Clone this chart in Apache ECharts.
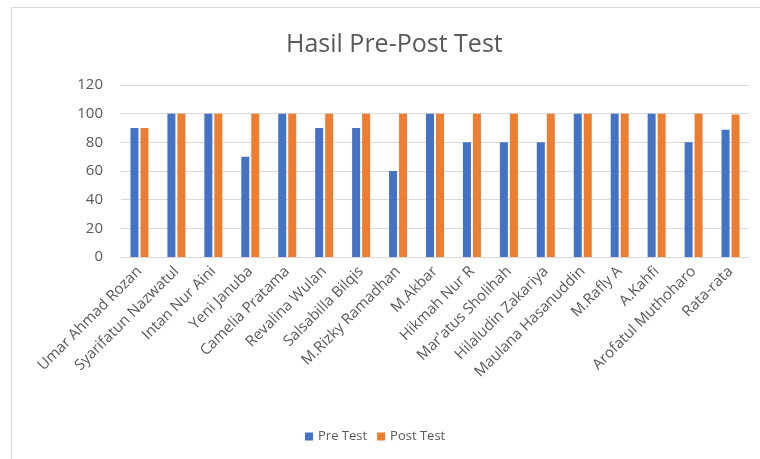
<!DOCTYPE html>
<html>
<head>
<meta charset="utf-8">
<script src="https://cdn.jsdelivr.net/npm/echarts@6/dist/echarts.min.js"></script>
<style>
  body { margin: 0; background: #fff; }
  #chart { width: 760px; height: 459px; }
</style>
</head>
<body>
<div id="chart"></div>
<script>
// nama siswa
const names = [
  'Umar Ahmad Rozan', 'Syarifatun Nazwatul', 'Intan Nur Aini', 'Yeni Januba',
  'Camelia Pratama', 'Revalina Wulan', 'Salsabilla Bilqis', 'M.Rizky Ramadhan',
  'M.Akbar', 'Hikmah Nur R', "Mar'atus Sholihah", 'Hilaludin Zakariya',
  'Maulana Hasanuddin', 'M.Rafly A', 'A.Kahfi', 'Arofatul Muthoharo', 'Rata-rata'
];
const preTest = [90, 100, 100, 70, 100, 90, 90, 60, 100, 80, 80, 80, 100, 100, 100, 80, 88.75];
const postTest = [90, 100, 100, 100, 100, 100, 100, 100, 100, 100, 100, 100, 100, 100, 100, 100, 99.375];
const yTicks = [0, 20, 40, 60, 80, 100, 120];

const fontFam = '"Open Sans", "Liberation Sans", sans-serif';
const chart = echarts.init(document.getElementById('chart'));
const option = {
  animation: false,
  graphic: [
    {
      type: 'rect',
      shape: { x: 11.5, y: 7.5, width: 800, height: 500 },
      style: { fill: 'none', stroke: '#d9d9d9', lineWidth: 1 },
      silent: true
    }
  ],
  title: {
    text: 'Hasil Pre-Post Test',
    left: 281,
    top: 27,
    textStyle: { fontFamily: fontFam, fontSize: 25, fontWeight: 'normal', color: '#595959' }
  },
  legend: {
    bottom: 11,
    left: 300,
    itemWidth: 8,
    itemHeight: 8,
    itemGap: 10,
    icon: 'rect',
    textStyle: { fontFamily: fontFam, fontSize: 13, color: '#595959' }
  },
  grid: { left: 121, right: 11, top: 85, bottom: 202 },
  xAxis: {
    type: 'category',
    data: names,
    axisTick: { show: false },
    axisLine: { lineStyle: { color: '#d9d9d9' } },
    axisLabel: {
      rotate: 45,
      interval: 0,
      margin: 12,
      fontFamily: fontFam,
      fontSize: 15,
      color: '#595959'
    }
  },
  yAxis: {
    type: 'value',
    min: yTicks[0],
    max: yTicks[yTicks.length - 1],
    interval: 20,
    axisLine: { show: false },
    axisTick: { show: false },
    splitLine: { lineStyle: { color: '#d9d9d9' } },
    axisLabel: { fontFamily: fontFam, fontSize: 15, color: '#595959', margin: 18 }
  },
  series: [
    {
      name: 'Pre Test',
      type: 'bar',
      data: preTest,
      barWidth: 8,
      barGap: '25%',
      itemStyle: { color: '#4472C4' }
    },
    {
      name: 'Post Test',
      type: 'bar',
      data: postTest,
      barWidth: 8,
      itemStyle: { color: '#ED7D31' }
    }
  ]
};
chart.setOption(option);
</script>
</body>
</html>
